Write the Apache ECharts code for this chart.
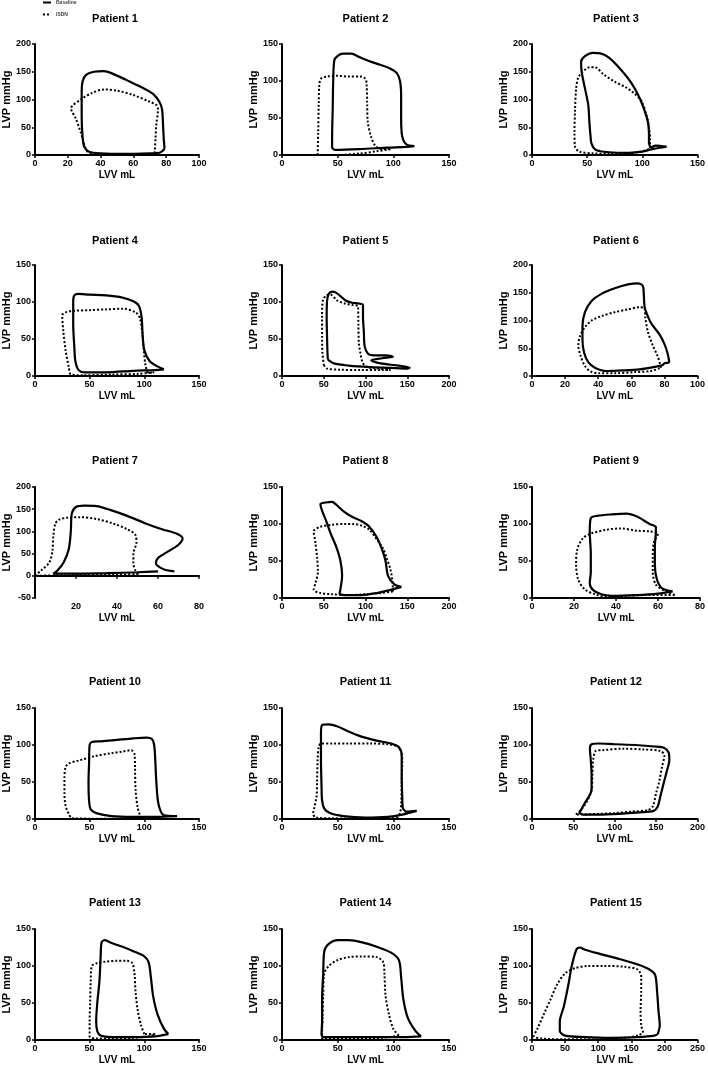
<!DOCTYPE html>
<html>
<head>
<meta charset="utf-8">
<script src="https://cdn.jsdelivr.net/npm/echarts@6/dist/echarts.min.js"></script>
<style>
html,body{margin:0;padding:0;background:#fff;}
#chart{width:708px;height:1066px;}
</style>
</head>
<body>
<div id="chart"></div>
<script>
// ---- Data (LVV mL, LVP mmHg) ----
const patients = ['Patient 1','Patient 2','Patient 3','Patient 4','Patient 5','Patient 6','Patient 7','Patient 8','Patient 9','Patient 10','Patient 11','Patient 12','Patient 13','Patient 14','Patient 15'];
const seriesNames = ['Baseline','ISDN'];
const xMaxes = [100,150,150,150,200,100,80,200,80,150,150,200,150,150,250];
const xIntervals = [20,50,50,50,50,20,20,50,20,50,50,50,50,50,50];
const yMins = [0,0,0,0,0,0,-50,0,0,0,0,0,0,0,0];
const yMaxes = [200,150,200,150,150,200,200,150,150,150,150,150,150,150,150];
const yInterval = 50;

const p1Base = [[79,12],[78.5,30],[78,60],[77.5,82],[76,95],[72,110],[65,122],[58,132],[50,143],[42,151],[36,150],[31,144],[29,132],[28.5,110],[28.5,70],[29,35],[30,15],[33,6],[40,3],[55,2],[70,3],[76,4],[78,8],[79,12]];
const p1Isdn = [[73,3],[73.5,30],[74,55],[75,82],[74,90],[70,96],[60,108],[50,116],[42,118],[35,112],[28,100],[22,84],[25,65],[28,40],[30,20],[32,6],[37,2],[55,2],[70,2],[73,3]];
const p2Base = [[119,12],[112,14],[108,25],[107,50],[107,80],[106,100],[103,111],[97,117],[88,122],[78,127],[70,132],[62,137],[55,137],[50,134],[47,128],[46,100],[45.5,60],[45,25],[45,10],[48,7],[70,8],[95,10],[112,11],[119,12]];
const p2Isdn = [[32,0],[32.5,30],[33,70],[33.5,95],[35,103],[40,106],[50,107],[60,106],[70,106],[75,103],[76,95],[76.5,70],[77,45],[80,25],[84,12],[90,8],[98,8],[85,5],[70,2],[50,0],[32,0]];
const p3Base = [[122,15],[112,17],[108,14],[106,22],[106,40],[105,60],[102,80],[97,105],[90,130],[80,155],[70,175],[62,183],[55,184],[48,178],[44.5,168],[45,150],[48,120],[51,90],[52,60],[53,35],[54,20],[58,9],[70,5],[88,4],[100,6],[108,10],[116,13],[122,15]];
const p3Isdn = [[107,12],[107,30],[106,50],[104,70],[99,98],[92,112],[85,122],[75,132],[65,145],[57,158],[52,158],[46,150],[42,140],[40,120],[39,80],[38.5,40],[39,15],[43,6],[55,3],[70,2],[88,3],[98,6],[104,9],[107,12]];
const p4Base = [[118,9],[112,13],[105,20],[100,35],[98.5,55],[97.5,80],[95,95],[90,101],[80,106],[65,109],[50,110],[40,111],[36,109],[35,100],[35,70],[36,40],[37,20],[40,8],[45,5],[65,5],[90,7],[110,8],[118,9]];
const p4Isdn = [[103,4],[101,15],[99.5,35],[98,60],[96,78],[92,86],[80,91],[65,90],[50,89],[35,88],[28,86],[25,82],[26,60],[28,35],[31,12],[33,2],[45,1],[70,2],[95,3],[109,5],[103,4]];
const p5Base = [[55,22],[62,17],[80,14],[105,12],[130,11],[150,10],[153,11],[140,14],[118,17],[107,21],[120,24],[133,26],[125,28],[110,28],[103,30],[99,40],[98,60],[97,80],[97,96],[92,98],[84,99],[76,102],[70,108],[64,113],[60,114],[56,111],[54,102],[53.5,80],[54,50],[54.5,30],[55,22]];
const p5Isdn = [[50,15],[54,10],[70,8.5],[95,8],[120,8],[130,8],[115,10],[100,13],[96,20],[94,30],[92,45],[91.5,70],[91,94],[84,96],[75,98],[66,102],[58,110],[53,109],[49,102],[48,80],[48,50],[48.5,30],[50,15]];
const p6Base = [[83,24],[82,40],[80,58],[77,75],[72,95],[69,115],[68,125],[67.5,150],[67,162],[64,167],[58,165],[50,158],[42,148],[36,135],[32,115],[30.5,90],[30.5,65],[31.5,42],[34,25],[38,15],[45,9],[55,10],[65,12],[75,17],[79,20],[80,23],[83,24]];
const p6Isdn = [[78,15],[76,35],[73,55],[70,80],[68.5,105],[68,122],[65,124],[58,120],[50,115],[42,108],[36,100],[32,88],[29,72],[28,55],[29.5,35],[32,18],[35,9],[40,5],[50,5],[62,7],[72,9],[78,15]];
const p7Base = [[68,10],[63,14],[59,28],[60,40],[65,55],[70,70],[72,84],[69,95],[62,105],[54,118],[45,135],[37,148],[30,157],[24,158],[20,155],[18,140],[17.5,100],[16.5,60],[14,30],[11,12],[9,5],[20,5],[35,6],[50,8],[60,10]];
const p7Isdn = [[0,0],[3,12],[7,30],[8.5,55],[9,90],[10,118],[12,127],[16,131],[22,132],[30,128],[38,118],[45,105],[49,92],[49.5,75],[48,50],[48,30],[49,12],[51,5],[40,3],[25,2],[10,1],[0,0]];
const p8Base = [[143,15],[135,18],[127,30],[124,50],[120,65],[113,83],[104,97],[95,104],[85,109],[75,116],[65,126],[60,130],[52,129],[46,127],[48,118],[53,104],[58,88],[65,69],[70,50],[72,30],[70,12],[69,6],[75,4],[95,4],[115,7],[130,11],[143,15]];
const p8Isdn = [[133,9],[132,25],[130,38],[125,55],[121,67],[113,80],[105,92],[95,98],[85,100],[75,100],[60,99],[45,96],[38,90],[40,75],[42,55],[43,35],[40,20],[38,11],[45,7],[60,5],[80,4],[100,5],[120,7],[133,9]];
const p9Base = [[67,9],[62,13],[59.5,25],[58.5,45],[58.5,70],[59,90],[59,96],[56,100],[50,110],[45,114],[38,113],[31,111],[28,108],[27.5,90],[28,60],[28,35],[27.5,20],[29,11],[33,5],[38,3],[50,4],[60,6],[67,9]];
const p9Isdn = [[68,4],[63,10],[59,18],[57.5,35],[57.5,55],[58,75],[60,87],[56,90],[50,91],[42,94],[35,92],[28,87],[24,80],[21.5,65],[21,45],[22,25],[25,12],[30,5],[35,2],[45,3],[55,4],[68,4]];
const p10Base = [[130,4],[118,5],[113,20],[111,50],[110,80],[109,100],[107,108],[102,110],[90,109],[75,107],[60,105],[52,104],[50,100],[49.5,75],[49,50],[49.5,25],[51,13],[56,8],[70,4],[90,3],[110,3],[130,4]];
const p10Isdn = [[97,1],[94,15],[92,40],[91.5,70],[91,88],[88,93],[80,91],[70,89],[55,85],[40,79],[31,75],[28,70],[27,55],[27,35],[28,18],[31,7],[34,1],[50,0.5],[75,0.5],[97,1]];
const p11Base = [[121,11],[112,10],[108.5,15],[108,30],[107.5,60],[107.5,85],[105,97],[98,102],[85,106],[70,112],[60,118],[50,125],[42,128],[36,127],[35,115],[35,80],[35.5,45],[36,25],[38,14],[43,8],[55,4],[75,2],[95,3],[108,6],[121,11]];
const p11Isdn = [[103,1],[106,8],[107,20],[107.5,50],[108,80],[107,92],[104,98],[95,101],[80,102],[60,102],[45,102],[35,102],[33,98],[32,80],[31.5,50],[31,30],[29,15],[28,8],[30,2],[45,1],[70,0.5],[95,1],[103,1]];
const p12Base = [[57,8],[63,20],[72,40],[72,60],[71,80],[70,95],[72,101],[80,102],[100,101],[125,100],[148,98],[160,96],[165,90],[166,80],[163,65],[159,48],[155,30],[152,17],[147,11],[130,9],[105,7],[80,6],[62,6],[57,8]];
const p12Isdn = [[53,6],[59,12],[67,25],[72,40],[73,60],[74,80],[77,92],[85,93],[110,95],[135,94],[155,92],[160,86],[157,70],[154,52],[150,35],[146,17],[140,12],[120,10],[100,8],[80,7],[60,6],[53,6]];
const p13Base = [[122,8],[118,15],[112,35],[108,60],[106,85],[104,105],[100,113],[90,120],[80,126],[70,131],[64,135],[61,132],[60,110],[59,80],[57,50],[56,25],[57,12],[60,6],[70,4],[90,4],[110,5],[122,8]];
const p13Isdn = [[100,8],[97,20],[94,40],[92,65],[91,90],[89,104],[84,107],[75,107],[65,106],[57,104],[52,100],[51,80],[50.5,50],[50,25],[50,5],[55,2],[70,2],[90,3],[105,5],[110,8],[100,8]];
const p14Base = [[125,5],[120,12],[113,30],[109,55],[107,85],[105,108],[98,118],[85,126],[72,132],[60,135],[50,135],[42,130],[38,120],[37,90],[36,55],[36,25],[35.5,8],[37,4],[60,4],[90,4],[110,4],[125,5]];
const p14Isdn = [[105,6],[100,15],[96,35],[93,60],[92,90],[91,105],[85,112],[72,113],[60,112],[50,108],[42,100],[38,90],[37,60],[36.5,30],[36,10],[36,2],[60,2],[90,3],[105,6]];
const p15Base = [[190,8],[193,20],[191,40],[189,65],[186,88],[178,95],[160,102],[130,110],[100,117],[80,122],[72,125],[67,122],[60,100],[55,75],[48,45],[42,25],[42,12],[50,6],[80,4],[120,3],[160,4],[185,6],[190,8]];
const p15Isdn = [[168,10],[165,20],[164,40],[165,65],[165,85],[160,95],[140,99],[110,100],[85,100],[65,97],[50,90],[38,75],[28,55],[18,35],[8,15],[3,5],[15,2],[50,1],[100,1],[140,3],[160,6],[168,10]];

const baselineLoops = [p1Base,p2Base,p3Base,p4Base,p5Base,p6Base,p7Base,p8Base,p9Base,p10Base,p11Base,p12Base,p13Base,p14Base,p15Base];
const isdnLoops = [p1Isdn,p2Isdn,p3Isdn,p4Isdn,p5Isdn,p6Isdn,p7Isdn,p8Isdn,p9Isdn,p10Isdn,p11Isdn,p12Isdn,p13Isdn,p14Isdn,p15Isdn];

// ---- Layout ----
const FONT = '"Liberation Sans", Arial, sans-serif';
const colLeft = [31, 282, 532];
const colWidth = [168, 167, 168];
const rowTop = [44, 265, 487, 708, 929];
const gridH = 111;
const titleTop = [13, 235, 455, 676, 897];

const grids = [], xAxes = [], yAxes = [], titles = [], series = [];
patients.forEach((p, i) => {
  const r = Math.floor(i / 3), c = i % 3;
  grids.push({left: colLeft[c], top: rowTop[r], width: colWidth[c], height: gridH, containLabel: false});
  titles.push({
    text: p, left: colLeft[c] + colWidth[c] / 2, top: titleTop[r], textAlign: 'center', padding: 0,
    textStyle: {fontSize: 11, fontWeight: 'bold', color: '#000', fontFamily: FONT}
  });
  xAxes.push({
    gridIndex: i, type: 'value', min: 0, max: xMaxes[i], interval: xIntervals[i],
    name: 'LVV mL', nameLocation: 'middle', nameGap: 15,
    nameTextStyle: {fontSize: 10, fontWeight: 'bold', color: '#000', fontFamily: FONT},
    axisLine: {onZero: true, lineStyle: {color: '#000', width: 2}},
    axisTick: {length: 3, lineStyle: {color: '#000', width: 1.5}},
    axisLabel: {fontSize: 9, fontWeight: 'bold', color: '#000', margin: 4, fontFamily: FONT,
      formatter: (yMins[i] < 0) ? (v => v === 0 ? '' : String(v)) : (v => String(v))},
    splitLine: {show: false}
  });
  yAxes.push({
    gridIndex: i, type: 'value', min: yMins[i], max: yMaxes[i], interval: yInterval,
    name: 'LVP mmHg', nameLocation: 'middle', nameGap: 20,
    nameTextStyle: {fontSize: 11, fontWeight: 'bold', color: '#000', fontFamily: FONT},
    axisLine: {onZero: false, lineStyle: {color: '#000', width: 2}},
    axisTick: {length: 3, lineStyle: {color: '#000', width: 1.5}},
    axisLabel: {fontSize: 9, fontWeight: 'bold', color: '#000', margin: 4, fontFamily: FONT},
    splitLine: {show: false}
  });
  series.push({
    name: seriesNames[0], type: 'line', xAxisIndex: i, yAxisIndex: i,
    data: baselineLoops[i], symbol: 'none', smooth: 0.3, clip: false,
    lineStyle: {color: '#000', width: 2.2, type: 'solid'}, itemStyle: {color: '#000'},
    animation: false, silent: true
  });
  series.push({
    name: seriesNames[1], type: 'line', xAxisIndex: i, yAxisIndex: i,
    data: isdnLoops[i], symbol: 'none', smooth: 0.3, clip: false,
    lineStyle: {color: '#000', width: 2, type: [2, 2]}, itemStyle: {color: '#000'},
    animation: false, silent: true
  });
});

const chart = echarts.init(document.getElementById('chart'), null, {renderer: 'canvas', width: 708, height: 1066});
chart.setOption({
  backgroundColor: '#fff',
  animation: false,
  title: titles,
  legend: {
    data: seriesNames, orient: 'vertical', left: 42, top: 0, padding: 0,
    itemWidth: 8, itemHeight: 5, itemGap: 7,
    itemStyle: {opacity: 0},
    textStyle: {fontSize: 5, fontWeight: 'bold', color: '#444', fontFamily: FONT},
    selectedMode: false
  },
  grid: grids,
  xAxis: xAxes,
  yAxis: yAxes,
  series: series
});
</script>
</body>
</html>
